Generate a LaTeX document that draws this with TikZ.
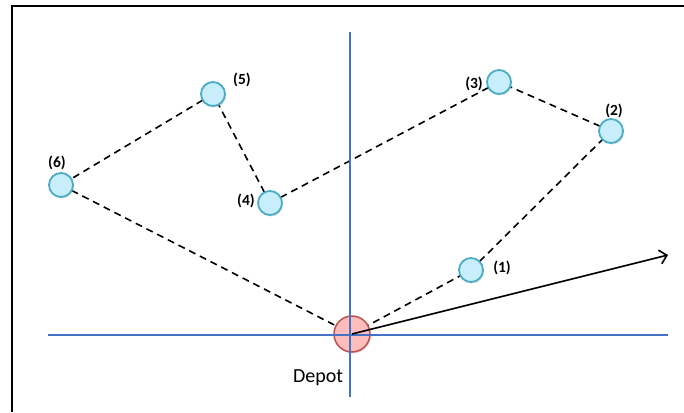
\documentclass[tikz,border=0pt]{standalone}
\usepackage{fontspec}
\setmainfont{Carlito}
\usetikzlibrary{arrows.meta,shadows}
\pgfdeclarelayer{background}
\pgfsetlayers{background,main}
\definecolor{axisblue}{HTML}{4472C4}
\definecolor{custfill}{HTML}{C8EEFC}
\definecolor{custline}{HTML}{4BACC6}
\definecolor{depotfill}{HTML}{FFBDBD}
\definecolor{depotline}{HTML}{C0504D}
\tikzset{
  frame/.style={
    draw=black,
    line width=1.8pt
  },
  axis/.style={
    draw=axisblue,
    line width=1.5pt
  },
  customer/.style={
    circle,
    draw=custline,
    fill=custfill,
    line width=1.8pt,
    minimum size=24pt,
    inner sep=0pt,
    drop shadow={shadow xshift=1pt, shadow yshift=-1.5pt, opacity=0.25}
  },
  depot/.style={
    circle,
    draw=depotline,
    fill=depotfill,
    line width=1.5pt,
    minimum size=36pt,
    inner sep=0pt,
    drop shadow={shadow xshift=1pt, shadow yshift=-1.5pt, opacity=0.25}
  },
  route/.style={
    draw=black,
    dash pattern=on 7pt off 5pt,
    line width=1.6pt
  },
  heading/.style={
    -{Straight Barb[length=7pt,width=14pt]},
    draw=black,
    line width=1.6pt
  },
  tag/.style={
    font=\bfseries\fontsize{15.5}{16}\selectfont,
    inner sep=1pt
  },
  depot label/.style={
    font=\fontsize{20}{21}\selectfont,
    inner sep=1pt
  }
}

\begin{document}
\begin{tikzpicture}[x=1pt,y=-1pt]

\useasboundingbox (0,0) rectangle (684,412);

% ---------------------------------------------------------------------------
% Frame
% ---------------------------------------------------------------------------
\coordinate (frameTL) at (12,6);
\coordinate (frameTR) at (684,6);
\coordinate (frameBL) at (12,412);
\draw[frame] (frameBL) -- (frameTL) -- (frameTR);

% ---------------------------------------------------------------------------
% Customers and depot
% ---------------------------------------------------------------------------
\node[customer] (c1) at (471,270) {};
\node[customer] (c2) at (611,131) {};
\node[customer] (c3) at (499,82) {};
\node[customer] (c4) at (270,203) {};
\node[customer] (c5) at (213,94) {};
\node[customer] (c6) at (61,185) {};
\node[depot] (depot) at (352,334) {};

\node[tag] (t1) at (502,268) {(1)};
\node[tag] (t2) at (614,111) {(2)};
\node[tag] (t3) at (474,84) {(3)};
\node[tag] (t4) at (246,201) {(4)};
\node[tag] (t5) at (242,80) {(5)};
\node[tag] (t6) at (57,163) {(6)};
\node[depot label, anchor=base] (depotlabel) at (318,382) {Depot};

% Route (tour through all customers), kept behind the circles.
\begin{pgfonlayer}{background}
\draw[route] (depot.center) -- (c1.center);
\draw[route] (c1.center) -- (c2.center);
\draw[route] (c2.center) -- (c3.center);
\draw[route] (c3.center) -- (c4.center);
\draw[route] (c4.center) -- (c5.center);
\draw[route] (c5.center) -- (c6.center);
\draw[route] (c6.center) -- (depot.center);
\end{pgfonlayer}

% ---------------------------------------------------------------------------
% Axes (over the depot) and heading vector
% ---------------------------------------------------------------------------
\coordinate (yTop) at (350,32);
\coordinate (yBottom) at (350,397);
\coordinate (xLeft) at (48,335);
\coordinate (xRight) at (668,335);
\draw[axis] (yTop) -- (yBottom);
\draw[axis] (xLeft) -- (xRight);

\coordinate (headTip) at (668,255);
\draw[heading] (depot.center) -- (headTip);

\end{tikzpicture}
\end{document}
